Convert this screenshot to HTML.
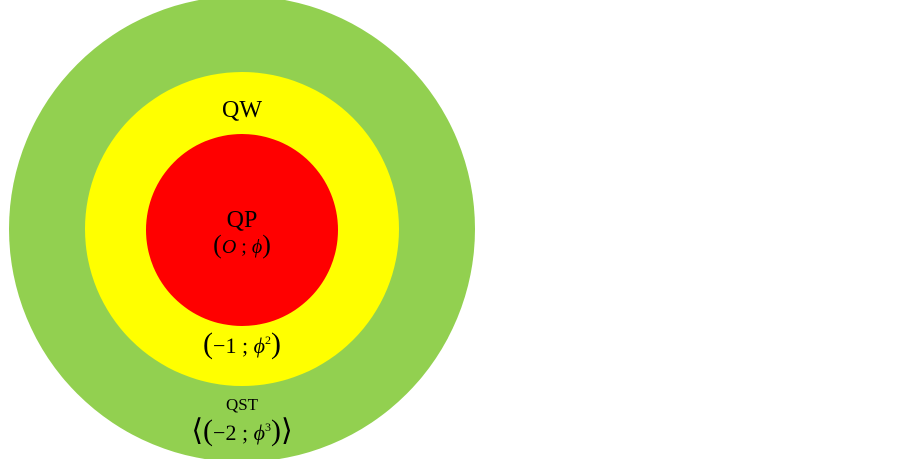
<!DOCTYPE html>
<html><head><meta charset="utf-8"><style>
html,body{margin:0;padding:0;background:#fff;width:902px;height:459px;overflow:hidden}
svg text{font-family:"Liberation Serif",serif;fill:#000}
</style></head><body>
<svg width="902" height="459" viewBox="0 0 902 459" xmlns="http://www.w3.org/2000/svg">
<circle cx="242" cy="229" r="233" fill="#92d050"/>
<circle cx="242" cy="229" r="157" fill="#ffff00"/>
<circle cx="242" cy="230" r="96" fill="#ff0000"/>
<text x="242" y="117" font-size="24" text-anchor="middle">QW</text>
<text x="242" y="227" font-size="24" text-anchor="middle">QP</text>
<text x="242" y="253" font-size="20" text-anchor="middle"><tspan font-size="26">(</tspan><tspan font-style="italic">O</tspan> ; <tspan font-style="italic">ϕ</tspan><tspan font-size="26">)</tspan></text>
<text x="242" y="353" font-size="22" text-anchor="middle"><tspan font-size="30">(</tspan>−1 ; <tspan font-style="italic">ϕ</tspan><tspan font-size="12" dy="-9">2</tspan><tspan font-size="30" dy="9">)</tspan></text>
<text x="242" y="410" font-size="17" text-anchor="middle">QST</text>
<text x="242" y="440" font-size="22" text-anchor="middle"><tspan font-size="30">⟨(</tspan>−2 ; <tspan font-style="italic">ϕ</tspan><tspan font-size="12" dy="-9">3</tspan><tspan font-size="30" dy="9">)⟩</tspan></text>
</svg>
</body></html>
